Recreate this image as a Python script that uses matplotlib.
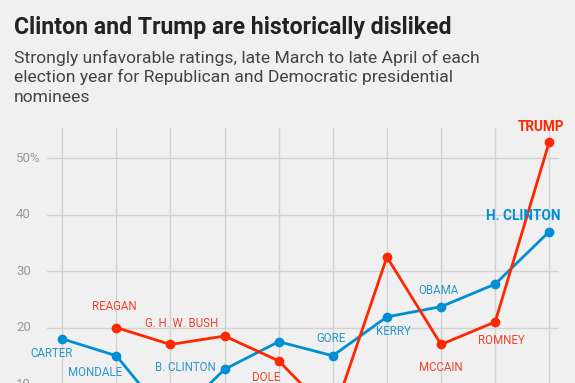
import numpy as np
import matplotlib.pyplot as plt

years = [1980, 1984, 1988, 1992, 1996, 2000, 2004, 2008, 2012, 2016]
dem_vals = [18.0, 15.0, 3.3, 12.6, 17.5, 15.0, 21.9, 23.7, 27.7, 37.0]
rep_vals = [np.nan, 20.0, 17.0, 18.5, 14.1, 4.3, 32.5, 17.0, 21.0, 52.9]

dem_names = ["CARTER", "MONDALE", "", "B. CLINTON", "", "GORE", "KERRY", "OBAMA", "", "H. CLINTON"]
rep_names = ["", "REAGAN", "G. H. W. BUSH", "", "DOLE", "", "", "MCCAIN", "ROMNEY", "TRUMP"]

yticks = [10, 20, 30, 40, 50]
ytick_labels = ["10", "20", "30", "40", "50%"]

title = "Clinton and Trump are historically disliked"
subtitle = ["Strongly unfavorable ratings, late March to late April of each",
            "election year for Republican and Democratic presidential",
            "nominees"]

BG = '#f0f0f0'
RED = '#ff2700'
BLUE = '#008fd5'

# label offsets in pixels (dx, dy) from each point
dem_off = [(-11, -15), (-21, -17), (0, 0), (-39, 2), (0, 0), (-2, 17), (7, -15), (-3, 16), (0, 0), (-26, 16)]
rep_off = [(0, 0), (-2, 21), (11, 21), (0, 0), (-13, -17), (0, 0), (0, 0), (0, -23), (6, -19), (-8, 15)]

plt.rcParams['font.family'] = ['Roboto', 'DejaVu Sans']

fig = plt.figure(figsize=(5.75, 3.83), dpi=100, facecolor=BG)
ax = fig.add_axes([0.0812, -0.150, 0.891, 0.815])
ax.set_facecolor(BG)
for s in ax.spines.values():
    s.set_visible(False)

ax.set_xlim(1978.85, 2016.72)
ax.set_ylim(0, 55.3)
ax.set_xticks(years)
ax.set_yticks(yticks)
ax.tick_params(length=0, labelbottom=False, labelleft=False)
ax.grid(color='#d2d2d2', lw=1, zorder=0)

for y, lab in zip(yticks, ytick_labels):
    ax.text(-0.06, y, lab, transform=ax.get_yaxis_transform(), ha='left', va='center',
            fontsize=9.5, color='#9a9a9a')

ax.plot(years, dem_vals, color=BLUE, lw=2, marker='o', ms=6, zorder=3)
ax.plot(years, rep_vals, color=RED, lw=2, marker='o', ms=6, zorder=4)

for x, y, name, off in zip(years, dem_vals, dem_names, dem_off):
    if name:
        big = name == "H. CLINTON"
        ax.annotate(name, (x, y), xytext=off, textcoords='offset pixels', ha='center', va='center',
                    fontsize=9.8 if big else 8.3, fontweight='bold' if big else 'normal',
                    color=BLUE if big else '#2a95c9', zorder=5)
for x, y, name, off in zip(years, rep_vals, rep_names, rep_off):
    if name:
        big = name == "TRUMP"
        ax.annotate(name, (x, y), xytext=off, textcoords='offset pixels', ha='center', va='center',
                    fontsize=9.8 if big else 8.3, fontweight='bold' if big else 'normal',
                    color=RED if big else '#e8452c', zorder=5)

fig.text(14 / 575, 1 - 34 / 383, title,
         fontsize=16.6, fontweight='bold', color='#222222', ha='left', va='baseline')
for i, line in enumerate(subtitle):
    fig.text(14 / 575, 1 - (63 + 19.3 * i) / 383, line,
             fontsize=12.6, color='#444444', ha='left', va='baseline')

fig.savefig('out.png', dpi=100, facecolor=BG)
